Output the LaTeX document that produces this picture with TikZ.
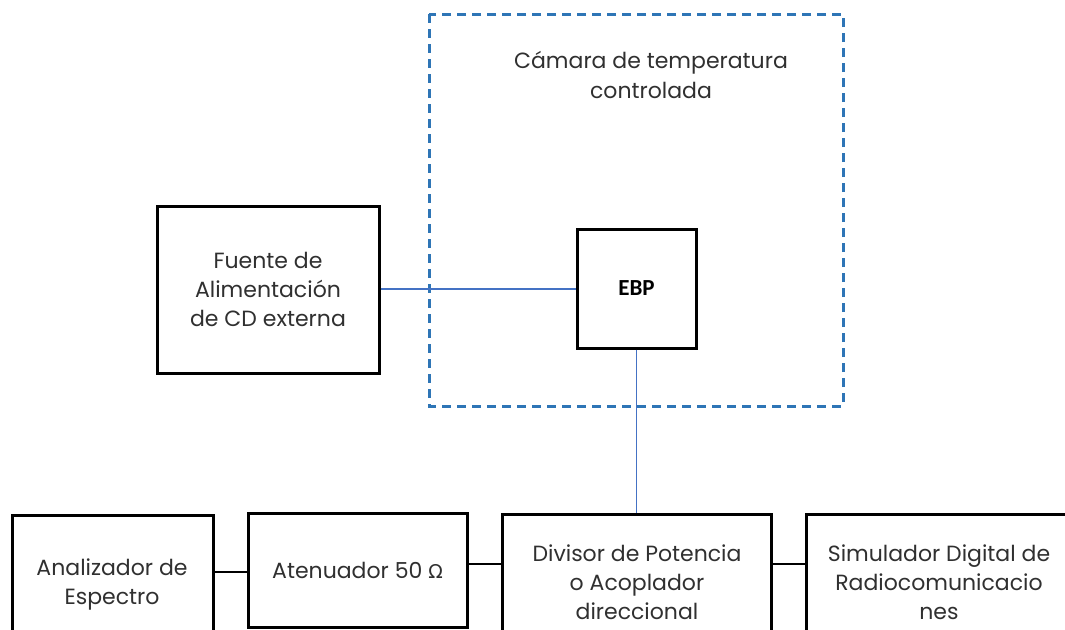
\documentclass[tikz,border=0pt]{standalone}
\usepackage{fontspec}
\setmainfont{Poppins}
\newfontfamily\omegafont{DejaVu Sans}
\newfontfamily\ebpfont{Carlito}
\definecolor{dashblue}{HTML}{2E75B6}
\definecolor{lineblue}{HTML}{4472C4}
\definecolor{txtgray}{HTML}{303030}
\begin{document}
\begin{tikzpicture}[x=1pt,y=-1pt,
  blk/.style={draw=black,line width=3pt,inner sep=0pt,align=center,
    text=txtgray,font=\fontsize{22}{29}\selectfont},
  lbl/.style={align=center,text=txtgray,font=\fontsize{22}{29}\selectfont},
  chamber/.style={draw=dashblue,line width=3pt,dash pattern=on 9pt off 6pt},
  wire/.style={draw=black,line width=2pt},
  bwire/.style={draw=lineblue,line width=1.5pt}]
\useasboundingbox (0,0) rectangle (1065,629);
\clip (0,0) rectangle (1065,629);
\fill[white] (0,0) rectangle (1065,629);
% chamber
\draw[chamber] (429,14) rectangle (843,406);
\node[lbl,font=\fontsize{22}{30}\selectfont] (title) at (651,75) {Cámara de temperatura\\controlada};
% boxes
\node[blk,minimum width=119pt,minimum height=119pt] (ebp) at (636.5,288.5) {\ebpfont\bfseries\fontsize{23}{26}\selectfont\color{black}EBP};
\node[blk,minimum width=222pt,minimum height=167pt] (fuente) at (268,289.5) {Fuente de\\Alimentación\\de CD externa};
\node[blk,minimum width=201pt,minimum height=160pt] (anal) at (112.5,595) {};
\node[lbl] (analtxt) at (112,584) {Analizador de\\Espectro};
\node[blk,minimum width=219pt,minimum height=114pt] (aten) at (357.5,570) {Atenuador 50 {\omegafont\fontsize{19}{22}\selectfont Ω}};
\node[blk,minimum width=269pt,minimum height=160pt] (div) at (636.5,594) {};
\node[lbl] (divtxt) at (637,582) {Divisor de Potencia\\o Acoplador\\direccional};
\node[blk,minimum width=300pt,minimum height=160pt] (sim) at (956,594) {};
\node[lbl] (simtxt) at (939,582) {Simulador Digital de\\Radiocomunicacio\\nes};
% connectors
\draw[bwire] (fuente.east |- 0,289) -- (ebp.west |- 0,289);
\draw[bwire] (ebp.south) -- (div.north);
\draw[wire] (anal.east |- 0,572) -- (aten.west |- 0,572);
\draw[wire] (aten.east |- 0,564) -- (div.west |- 0,564);
\draw[wire] (div.east |- 0,564) -- (sim.west |- 0,564);
\end{tikzpicture}
\end{document}
